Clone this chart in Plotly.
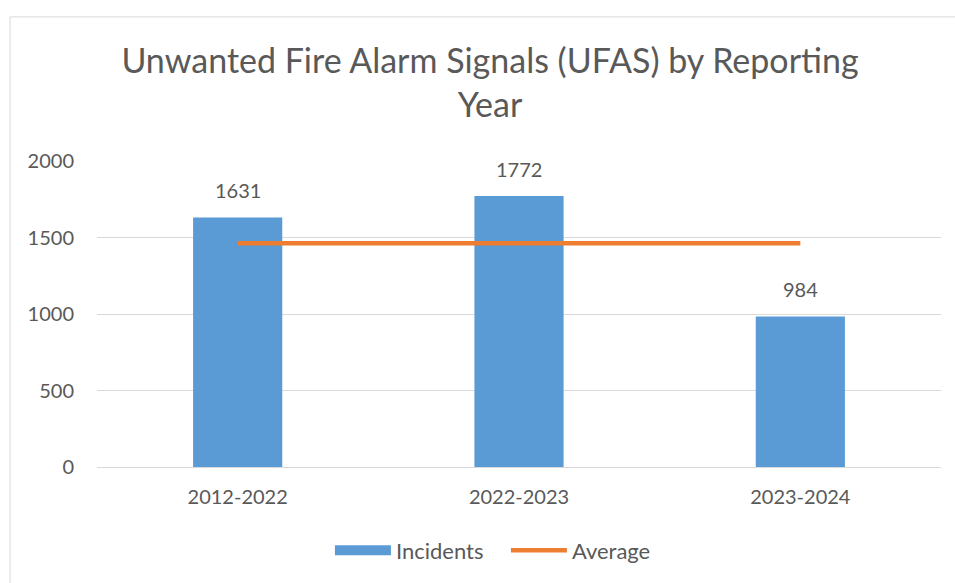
import plotly.graph_objects as go

categories = ["2012-2022", "2022-2023", "2023-2024"]
incidents = [1631, 1772, 984]
average = [1462, 1462, 1462]
y_ticks = [0, 500, 1000, 1500, 2000]

FONT = "Lato"
GRAY = "#595959"
GRID = "#D9D9D9"
BLUE = "#5B9BD5"
ORANGE = "#ED7D31"

W, H = 955, 583

fig = go.Figure()
fig.add_trace(go.Bar(
    x=categories, y=incidents, name="Incidents", showlegend=False,
    marker=dict(color=BLUE, line=dict(width=0)),
))
# legend entry for the bars (wide rectangle swatch like the original)
fig.add_trace(go.Scatter(
    x=[None], y=[None], name="Incidents", mode="lines",
    line=dict(color=BLUE, width=14), hoverinfo="skip",
))
fig.add_trace(go.Scatter(
    x=categories, y=average, name="Average", mode="lines",
    line=dict(color=ORANGE, width=4.5),
))

for c, v in zip(categories, incidents):
    fig.add_annotation(x=c, y=v, text=str(v), showarrow=False,
                       yanchor="middle", yshift=27,
                       font=dict(family=FONT, size=20, color=GRAY))

fig.add_shape(type="rect", xref="paper", yref="paper",
              x0=-0.103, x1=1.2, y0=-0.6, y1=1.471,
              line=dict(color=GRID, width=1), layer="below")

fig.update_layout(
    width=W, height=H,
    margin=dict(l=97, r=14, t=161, b=114),
    paper_bgcolor="white", plot_bgcolor="white",
    bargap=0.683,
    title=dict(text="Unwanted Fire Alarm Signals (UFAS) by Reporting<br>Year",
               x=490 / W, xanchor="center", y=1 - 73 / H, yanchor="top",
               font=dict(family=FONT, size=34, color=GRAY)),
    showlegend=True,
    legend=dict(orientation="h", x=0.4845, xanchor="center", y=-0.273, yanchor="middle",
                font=dict(family=FONT, size=22, color=GRAY), itemwidth=56,
                entrywidth=105, entrywidthmode="pixels",
                traceorder="normal"),
    font=dict(family=FONT, color=GRAY),
)
fig.update_xaxes(showgrid=False, showline=False, ticks="", ticklabelstandoff=16,
                 tickfont=dict(family=FONT, size=20, color=GRAY))
fig.update_yaxes(range=[0, 2000], tickvals=y_ticks, showgrid=True, gridcolor=GRID, gridwidth=1.3,
                 zeroline=True, zerolinecolor=GRID, zerolinewidth=1.3, showline=False,
                 ticks="", ticklabelstandoff=22,
                 tickfont=dict(family=FONT, size=20, color=GRAY))

fig.write_html("out.html", config={"displayModeBar": False},
               post_script="document.body.style.margin='0';document.body.style.overflow='hidden';")
